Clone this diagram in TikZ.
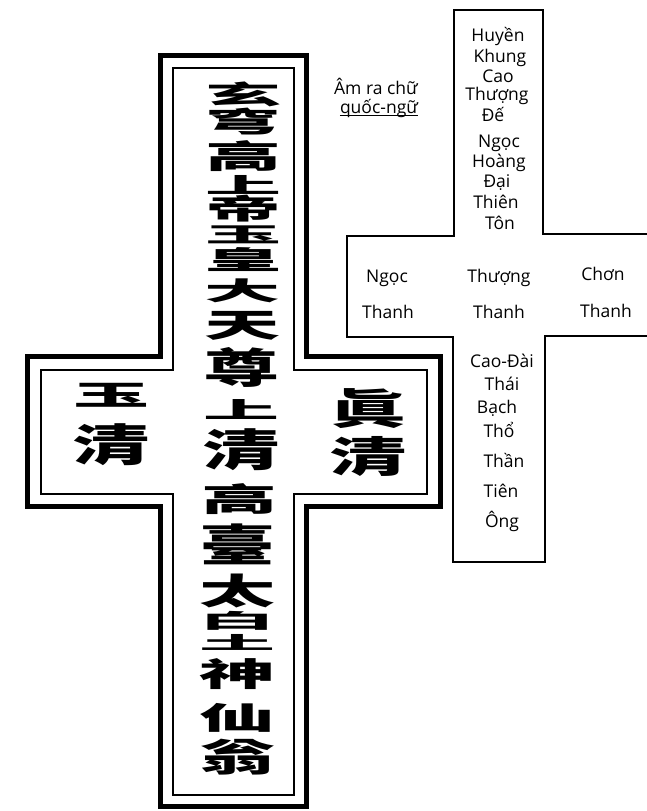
\documentclass[tikz,border=0pt]{standalone}
\usepackage{fontspec}
\usepackage{graphicx}
\setmainfont{Open Sans}
\newfontfamily\cjk{Noto Sans CJK TC}
\newcommand\hzbox[3]{\resizebox*{#1pt}{#2pt}{\cjk\bfseries #3}}
\tikzset{
  outerline/.style={line width=5pt, line join=miter},
  innerline/.style={line width=1.4pt, line join=miter},
  thinline/.style={line width=1.2pt, line join=miter},
  hz/.style={inner sep=0pt, outer sep=0pt},
  vt/.style={font=\fontsize{17.5}{17.5}\selectfont, inner sep=0pt, anchor=base},
}
\begin{document}
\begin{tikzpicture}[x=1pt,y=-1pt]
\useasboundingbox (0,0) rectangle (647,811);
% left cross, outer thick border
\draw[outerline] (160,55) -- (306,55) -- (306,356) -- (440,356) -- (440,506) -- (306,506)
  -- (306,806) -- (160,806) -- (160,506) -- (27,506) -- (27,356) -- (160,356) -- cycle;
% left cross, inner thin border
\draw[innerline] (173,68) -- (294,68) -- (294,370) -- (427,370) -- (427,494) -- (294,494)
  -- (294,795) -- (173,795) -- (173,494) -- (41,494) -- (41,370) -- (173,370) -- cycle;
% vertical column
\node[hz] (c1) at (243,94) {\hzbox{76}{25}{玄}};
\node[hz] (c2) at (243,122) {\hzbox{76}{27}{穹}};
\node[hz] (c3) at (243,156) {\hzbox{76}{31}{高}};
\node[hz] (c4) at (243,185) {\hzbox{76}{19}{上}};
\node[hz] (c5) at (243,209) {\hzbox{76}{27}{帝}};
\node[hz] (c6) at (243,235) {\hzbox{76}{18}{玉}};
\node[hz] (c7) at (243,260) {\hzbox{76}{24}{皇}};
\node[hz] (c8) at (242,291) {\hzbox{76}{24}{大}};
\node[hz] (c9) at (242,326) {\hzbox{76}{29}{天}};
\node[hz] (c10) at (241,367) {\hzbox{76}{40}{尊}};
\node[hz] (c11) at (241,410) {\hzbox{76}{20}{上}};
\node[hz] (c12) at (241,450) {\hzbox{76}{42}{清}};
\node[hz] (c13) at (239,499) {\hzbox{76}{31}{高}};
\node[hz] (c14) at (237,544) {\hzbox{76}{41}{臺}};
\node[hz] (c15) at (237,591) {\hzbox{76}{34}{太}};
\node[hz] (c16) at (237,621) {\hzbox{76}{19}{白}};
\node[hz] (c17) at (237,642) {\hzbox{76}{16}{土}};
\node[hz] (c18) at (237,674) {\hzbox{76}{31}{神}};
\node[hz] (c19) at (237,718) {\hzbox{76}{29}{仙}};
\node[hz] (c20) at (237,757) {\hzbox{76}{36}{翁}};
% side characters
\node[hz] (l1) at (111,395) {\hzbox{76}{24}{玉}};
\node[hz] (l2) at (111,445) {\hzbox{76}{42}{清}};
\node[hz] (r1) at (368,409) {\hzbox{76}{40}{眞}};
\node[hz] (r2) at (368,456) {\hzbox{76}{40}{清}};
% right cross outline
\draw[thinline] (647,234) -- (543,234) -- (543,10) -- (454,10) -- (454,236) -- (347,236)
  -- (347,337) -- (453,337) -- (453,562) -- (545,562) -- (545,336) -- (647,336);
% caption
\node[vt] (am) at (376,94) {Âm ra chữ};
\node[vt] (qn) at (379,113) {quốc-ngữ};
\draw[line width=0.9pt] ([yshift=1.5pt]qn.south west) -- ([yshift=1.5pt]qn.south east);
% upper column text
\node[vt] (t1) at (498,41) {Huyền};
\node[vt] (t2) at (500,62) {Khung};
\node[vt] (t3) at (498,82) {Cao};
\node[vt] (t4) at (497,100) {Thượng};
\node[vt] (t5) at (493,121) {Đế};
\node[vt] (t6) at (499,147) {Ngọc};
\node[vt] (t7) at (499,167) {Hoàng};
\node[vt] (t8) at (497,187) {Đại};
\node[vt] (t9) at (496,208) {Thiên};
\node[vt] (t10) at (500,229) {Tôn};
% middle row
\node[vt] (m1) at (387,282) {Ngọc};
\node[vt] (m2) at (388,318) {Thanh};
\node[vt] (m3) at (499,282) {Thượng};
\node[vt] (m4) at (499,318) {Thanh};
\node[vt] (m5) at (603,280) {Chơn};
\node[vt] (m6) at (606,317) {Thanh};
% lower column
\node[vt] (b1) at (502,367) {Cao-Đài};
\node[vt] (b2) at (502,390) {Thái};
\node[vt] (b3) at (497,413) {Bạch};
\node[vt] (b4) at (499,437) {Thổ};
\node[vt] (b5) at (504,467) {Thần};
\node[vt] (b6) at (501,497) {Tiên};
\node[vt] (b7) at (502,527) {Ông};
\end{tikzpicture}
\end{document}
